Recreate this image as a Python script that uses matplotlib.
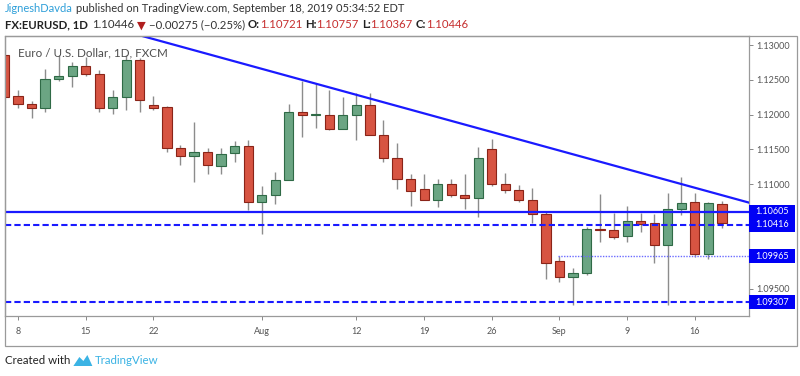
import matplotlib
matplotlib.use("Agg")
import matplotlib.pyplot as plt
import matplotlib.transforms as mtransforms
from matplotlib.patches import Rectangle, Polygon

# daily EURUSD bars, Jul 5 - Sep 18 2019
opens = [1.1286, 1.1227, 1.1215, 1.1210, 1.1251, 1.1255, 1.1270, 1.1259, 1.1210, 1.1226,
         1.1278, 1.1214, 1.1211, 1.1152, 1.1141, 1.1147, 1.1126, 1.1145, 1.1155, 1.1075,
         1.1085, 1.1106, 1.1204, 1.1199, 1.1200, 1.1179, 1.1200, 1.1214, 1.1171, 1.1138,
         1.1107, 1.1093, 1.1078, 1.1100, 1.1085, 1.1080, 1.1151, 1.1100, 1.1092, 1.1077,
         1.1057, 1.0990, 1.0967, 1.0972, 1.1036, 1.1034, 1.1026, 1.1047, 1.1044, 1.1012,
         1.1064, 1.1074, 1.1000, 1.10721]
highs = [1.1290, 1.1236, 1.1220, 1.1265, 1.1286, 1.1275, 1.1283, 1.1264, 1.1236, 1.1286,
         1.1281, 1.1227, 1.1212, 1.1156, 1.1190, 1.1152, 1.1152, 1.1162, 1.1163, 1.1097,
         1.1118, 1.1215, 1.1249, 1.1245, 1.1236, 1.1225, 1.1231, 1.1231, 1.1192, 1.1159,
         1.1114, 1.1114, 1.1107, 1.1107, 1.1115, 1.1154, 1.1165, 1.1116, 1.1099, 1.1094,
         1.1060, 1.0997, 1.0979, 1.1038, 1.1086, 1.1058, 1.1069, 1.1059, 1.1057, 1.1088,
         1.1111, 1.1088, 1.1075, 1.10757]
lows = [1.1207, 1.1210, 1.1195, 1.1204, 1.1248, 1.1240, 1.1255, 1.1204, 1.1201, 1.1207,
        1.1204, 1.1207, 1.1146, 1.1127, 1.1103, 1.1114, 1.1115, 1.1132, 1.1063, 1.1029,
        1.1072, 1.1106, 1.1168, 1.1181, 1.1178, 1.1179, 1.1163, 1.1171, 1.1132, 1.1093,
        1.1068, 1.1077, 1.1067, 1.1081, 1.1064, 1.1053, 1.1097, 1.1087, 1.1075, 1.1044,
        1.0964, 1.0959, 1.0926, 1.0970, 1.1017, 1.1021, 1.1017, 1.1031, 1.0987, 1.0927,
        1.1056, 1.0995, 1.0992, 1.10367]
closes = [1.1226, 1.1215, 1.1210, 1.1251, 1.1255, 1.1270, 1.1259, 1.1210, 1.1226, 1.1278,
          1.1221, 1.1210, 1.1152, 1.1140, 1.1147, 1.1127, 1.1144, 1.1155, 1.1075, 1.1085,
          1.1106, 1.1204, 1.1199, 1.1201, 1.1179, 1.1200, 1.1214, 1.1171, 1.1138, 1.1107,
          1.1090, 1.1078, 1.1100, 1.1085, 1.1080, 1.1137, 1.1100, 1.1091, 1.1077, 1.1057,
          1.0987, 1.0967, 1.0972, 1.1035, 1.1034, 1.1024, 1.1047, 1.1043, 1.1012, 1.1064,
          1.1073, 1.1000, 1.1073, 1.10446]

date_tick_idx = [1, 6, 11, 19, 26, 31, 36, 41, 46, 51]
date_tick_labels = ["8", "15", "22", "Aug", "12", "19", "26", "Sep", "9", "16"]

price_ticks = [1.095, 1.110, 1.115, 1.120, 1.125, 1.130]
support_solid = 1.10605
support_dash = 1.10416
support_dot = 1.09965
support_low = 1.09307
dot_start_idx = 40.9
trend_pts_x = [11.3, 55.1]
trend_pts_y = [1.1307, 1.1073]

last_close, change, change_pct = "1.10446", "\u22120.00275", "\u22120.25%"
o_txt, h_txt, l_txt, c_txt = "1.10721", "1.10757", "1.10367", "1.10446"

UP, UP_EDGE = "#6ba583", "#2f6a46"
DN, DN_EDGE = "#d75442", "#8a2418"
WICK = "#8c8c8c"
BLUE = "#1a1aff"
FONT = ["Lato", "DejaVu Sans"]

W, H = 800, 376
fig = plt.figure(figsize=(8, 3.76), dpi=100)
plt.rcParams["font.family"] = FONT

ax = fig.add_axes([5 / W, 1 - 316 / H, 744 / W, 280 / H])
ax.set_xlim(0.04, 55.0)
ax.set_ylim(1.09106, 1.1313)

x = list(range(len(opens)))
ax.vlines(x, lows, highs, color=WICK, lw=1, zorder=2)
bottoms = [min(o, c) for o, c in zip(opens, closes)]
heights = [max(abs(c - o), 0.00004) for o, c in zip(opens, closes)]
face = [UP if c >= o else DN for o, c in zip(opens, closes)]
edge = [UP_EDGE if c >= o else DN_EDGE for o, c in zip(opens, closes)]
ax.bar(x, heights, bottom=bottoms, width=0.68, color=face, edgecolor=edge,
       linewidth=0.8, zorder=3)

# levels and trend line
ax.axhline(support_solid, color=BLUE, lw=1.6, zorder=4)
ax.axhline(support_dash, color=BLUE, lw=1.5, ls=(0, (3, 1.5)), zorder=4)
ax.axhline(support_low, color=BLUE, lw=1.5, ls=(0, (3, 1.5)), zorder=4)
ax.plot([dot_start_idx, 56], [support_dot, support_dot], color="#6b6bff", lw=1.0,
        ls=(0, (1, 1)), zorder=4)
slope = (trend_pts_y[1] - trend_pts_y[0]) / (trend_pts_x[1] - trend_pts_x[0])
tx = [-1, 56]
ty = [trend_pts_y[0] + slope * (v - trend_pts_x[0]) for v in tx]
ax.plot(tx, ty, color=BLUE, lw=1.6, zorder=4)

# axes styling
for s in ax.spines.values():
    s.set_color("#9a9a9a")
    s.set_linewidth(0.9)
ax.yaxis.tick_right()
ax.set_yticks(price_ticks)
ax.set_yticklabels(["%.5f" % v for v in price_ticks])
ax.set_xticks(date_tick_idx)
ax.set_xticklabels(date_tick_labels)
ax.tick_params(axis="y", direction="out", length=3, width=0.7, color="#888",
               labelsize=6.5, labelcolor="#555", pad=2)
ax.tick_params(axis="x", direction="out", length=3, width=0.7, color="#888",
               labelsize=6.5, labelcolor="#555", pad=5)

# highlighted price labels on the scale
blend = mtransforms.blended_transform_factory(ax.transAxes, ax.transData)
box_h = 14 / 6960
for lv in [support_solid, support_dash, support_dot, support_low]:
    ax.add_patch(Rectangle((1.0, lv - box_h / 2), 46 / 744, box_h, transform=blend,
                           facecolor="#0000f5", edgecolor="none", clip_on=False, zorder=6))
    ax.text(1.0 + 23 / 744, lv, "%.5f" % lv, transform=blend, ha="center", va="center",
            color="white", fontsize=6.5, clip_on=False, zorder=7)

# outer frame
fig.add_artist(Rectangle((5 / W, 1 - 346 / H), 792 / W, 310 / H, transform=fig.transFigure,
                         fill=False, edgecolor="#9a9a9a", lw=0.9))

ax.text(13 / 744, 1 - 17 / 280, "Euro / U.S. Dollar, 1D, FXCM", transform=ax.transAxes,
        ha="left", va="center", fontsize=8.4, color="#4d4d4d", zorder=8)

# header lines built piece by piece
renderer = fig.canvas.get_renderer()


def text_width(s, size, weight):
    t = fig.text(0, 0, s, fontsize=size, fontweight=weight, family=FONT)
    w = t.get_window_extent(renderer).width
    t.remove()
    return w


def run_text(parts, x0, y0, size):
    space = text_width("x x", size, "normal") - text_width("xx", size, "normal")
    xp = x0
    for s, color, weight, gap in parts:
        t = fig.text(xp / W, 1 - y0 / H, s, color=color, fontsize=size, fontweight=weight,
                     family=FONT, ha="left", va="center")
        xp += t.get_window_extent(renderer).width + gap * space
    return xp


RED = "#c62f2f"
DARK = "#222222"
run_text([("JigneshDavda", "#2e9fd9", "normal", 1),
          ("published on TradingView.com, September 18, 2019 05:34:52 EDT", "#333333", "normal", 0)],
         5, 9, 8.0)
run_text([("FX:EURUSD, 1D", DARK, "bold", 1.5),
          (last_close, "#333333", "normal", 1),
          ("\u25bc", "#b01e1e", "normal", 1),
          ("%s (%s)" % (change, change_pct), "#333333", "normal", 1),
          ("O:", DARK, "bold", 0), (o_txt, RED, "normal", 1),
          ("H:", DARK, "bold", 0), (h_txt, RED, "normal", 1),
          ("L:", DARK, "bold", 0), (l_txt, RED, "normal", 1),
          ("C:", DARK, "bold", 0), (c_txt, RED, "normal", 0)],
         5, 25, 8.2)

# footer
end = run_text([("Created with", DARK, "normal", 0)], 5, 360, 8.3)
logo = [(end + 3, 366), (end + 9, 357), (end + 13, 361), (end + 17, 355), (end + 22, 366)]
fig.add_artist(Polygon([(px / W, 1 - py / H) for px, py in logo], closed=True,
                       transform=fig.transFigure, facecolor="#3bb3e4", edgecolor="none"))
run_text([("TradingView", "#3bb3e4", "normal", 0)], end + 24, 360, 8.3)

fig.savefig("out.png", dpi=100)
